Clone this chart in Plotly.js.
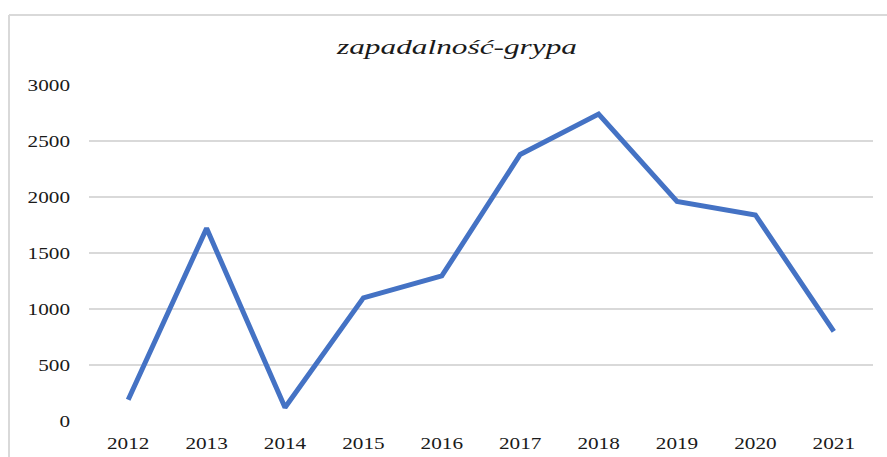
<!DOCTYPE html>
<html>
<head>
<meta charset="utf-8">
<script src="https://cdn.plot.ly/plotly-3.0.1.min.js"></script>
<style>
  html, body { margin: 0; padding: 0; background: #ffffff; }
  #chart { width: 887px; height: 457px; }
</style>
</head>
<body>
<div id="chart"></div>
<script>
const years = ['2012', '2013', '2014', '2015', '2016', '2017', '2018', '2019', '2020', '2021'];
const incidence = [190, 1720, 120, 1100, 1295, 2380, 2740, 1960, 1840, 800];
const yTicks = [0, 500, 1000, 1500, 2000, 2500, 3000];
const chartTitle = 'zapadalność-grypa';

const W = 887, H = 457;
const mL = 89, mR = 887 - 873, mT = 85, mB = 457 - 421;
const plotW = W - mL - mR, plotH = H - mT - mB;
// frame border position (pixels) converted to paper coords
const frameX = (9 - mL) / plotW;
const frameY = (H - mB - 15) / plotH;
const serif = '"Liberation Serif", "Times New Roman", serif';

const trace = {
  x: years,
  y: incidence,
  type: 'scatter',
  mode: 'lines',
  line: { color: '#4472C4', width: 5, shape: 'linear' },
  hoverinfo: 'x+y'
};

const layout = {
  width: W,
  height: H,
  margin: { l: mL, r: mR, t: mT, b: mB, pad: 0 },
  paper_bgcolor: '#ffffff',
  plot_bgcolor: '#ffffff',
  showlegend: false,
  title: {
    text: chartTitle,
    font: { family: serif, size: 21, color: '#1a1a1a', style: 'italic' },
    xref: 'container', yref: 'container',
    x: 457 / W, y: 1 - 47 / H,
    xanchor: 'center', yanchor: 'middle'
  },
  xaxis: {
    type: 'category',
    categoryorder: 'array',
    categoryarray: years,
    range: [-0.5, years.length - 0.5],
    showgrid: false,
    zeroline: false,
    showline: false,
    ticks: '',
    ticklabelstandoff: 10,
    tickfont: { family: serif, size: 17, color: '#1a1a1a' },
    fixedrange: true
  },
  yaxis: {
    range: [0, 3000],
    tickvals: yTicks,
    ticktext: yTicks.map(String),
    showgrid: true,
    gridcolor: '#d9d9d9',
    gridwidth: 1.3,
    zeroline: false,
    showline: false,
    ticks: '',
    ticklabelstandoff: 18,
    tickfont: { family: serif, size: 17, color: '#1a1a1a' },
    fixedrange: true
  },
  shapes: [
    { type: 'line', xref: 'paper', yref: 'paper', x0: frameX, x1: frameX, y0: -0.5, y1: frameY,
      line: { color: '#d9d9d9', width: 2 } },
    { type: 'line', xref: 'paper', yref: 'paper', x0: frameX, x1: 1.2, y0: frameY, y1: frameY,
      line: { color: '#d9d9d9', width: 2 } }
  ]
};

Plotly.newPlot('chart', [trace], layout, { displayModeBar: false, staticPlot: true }).then(function (gd) {
  // the reference text is horizontally stretched; widen glyphs to match
  gd.querySelectorAll('.xtick text, .ytick text').forEach(function (t) {
    const n = t.textContent.length;
    t.setAttribute('textLength', (10.6 * n).toFixed(1));
    t.setAttribute('lengthAdjust', 'spacingAndGlyphs');
  });
  gd.querySelectorAll('.gtitle').forEach(function (t) {
    t.setAttribute('textLength', '240');
    t.setAttribute('lengthAdjust', 'spacingAndGlyphs');
  });
});
</script>
</body>
</html>
